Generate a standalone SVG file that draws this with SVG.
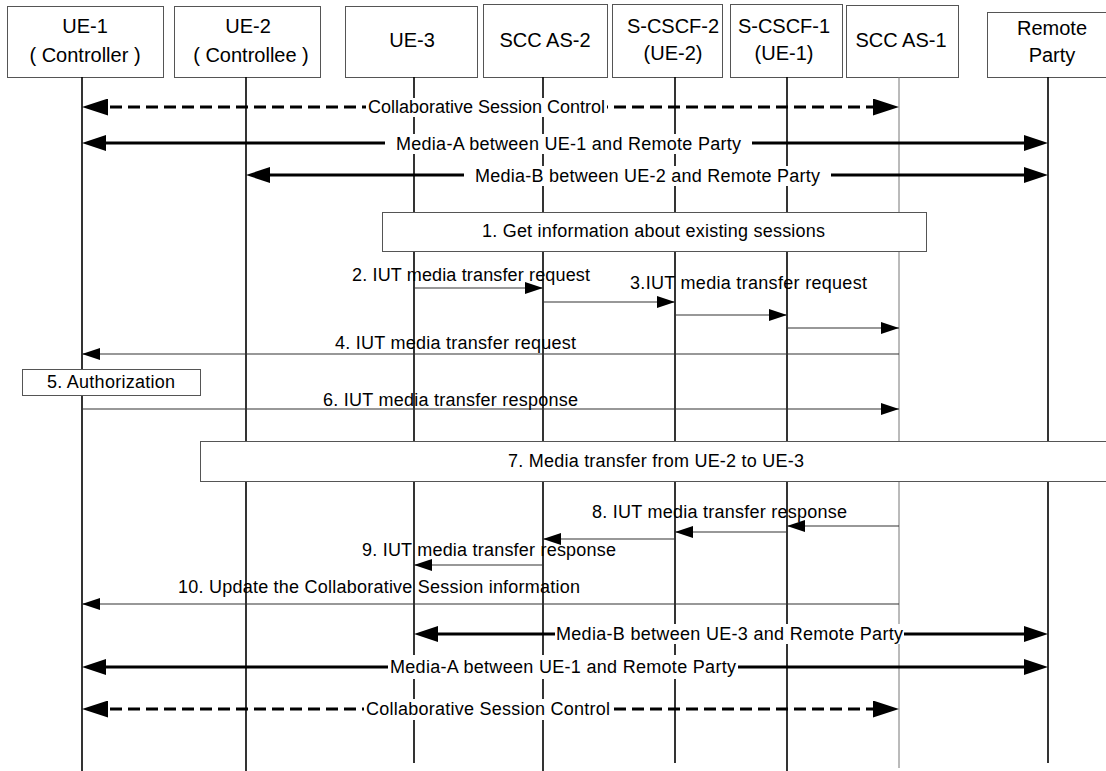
<svg xmlns="http://www.w3.org/2000/svg" width="1106" height="771" viewBox="0 0 1106 771">
<defs>
<style>
text{font-family:"Liberation Sans",Arial,sans-serif;fill:#000}
.hdr{font-size:20px;text-anchor:middle}
.lbl{font-size:18px}
.box{fill:#fff;stroke:#555;stroke-width:1}
.life{stroke:#000;stroke-width:1.6}
.life2{stroke:#777;stroke-width:1}
.msg{fill:none;stroke:#333;stroke-width:1.2;marker-end:url(#thin)}
.thick{fill:none;stroke:#000;stroke-width:3;marker-start:url(#big);marker-end:url(#big)}
.dash{fill:none;stroke:#000;stroke-width:3;stroke-dasharray:12 6;marker-start:url(#dh);marker-end:url(#dh)}
.bg{fill:#fff}
</style>
<marker id="thin" markerUnits="userSpaceOnUse" markerWidth="18" markerHeight="12" refX="18" refY="6" orient="auto"><path d="M0,0 L18,6 L0,12 z" fill="#000"/></marker>
<marker id="big" markerUnits="userSpaceOnUse" markerWidth="24" markerHeight="16" refX="14" refY="8" orient="auto-start-reverse"><path d="M0,0 L24,8 L0,16 z" fill="#000"/></marker>
<marker id="dh" markerUnits="userSpaceOnUse" markerWidth="26" markerHeight="17" refX="16" refY="8.5" orient="auto-start-reverse"><path d="M0,0 L26,8.5 L0,17 z" fill="#000"/></marker>
</defs>
<rect width="1106" height="771" fill="#fff"/>

<g id="ue1"><rect class="box" x="7.5" y="6.5" width="156" height="71"/><text class="hdr" x="85" y="33">UE-1</text><text class="hdr" x="85" y="62">( Controller )</text><line class="life" x1="82" y1="77" x2="82" y2="771"/></g>
<g id="ue2"><rect class="box" x="174.5" y="6.5" width="146" height="71"/><text class="hdr" x="248" y="33">UE-2</text><text class="hdr" x="251" y="62">( Controllee )</text><line class="life" x1="246" y1="77" x2="246" y2="771"/></g>
<g id="ue3"><rect class="box" x="345.5" y="6.5" width="132" height="71"/><text class="hdr" x="412" y="47">UE-3</text><line class="life" x1="414" y1="77" x2="414" y2="763"/></g>
<g id="sccas2"><rect class="box" x="483.5" y="4.5" width="124" height="73"/><text class="hdr" x="545" y="47">SCC AS-2</text><line class="life" x1="543" y1="77" x2="543" y2="771"/></g>
<g id="scscf2"><rect class="box" x="612.5" y="4.5" width="110" height="73"/><text class="hdr" x="673" y="33">S-CSCF-2</text><text class="hdr" x="673" y="60">(UE-2)</text><line class="life" x1="675" y1="77" x2="675" y2="763"/></g>
<g id="scscf1"><rect class="box" x="730.5" y="4.5" width="112" height="73"/><text class="hdr" x="784" y="33">S-CSCF-1</text><text class="hdr" x="784" y="60">(UE-1)</text><line class="life" x1="787" y1="77" x2="787" y2="771"/></g>
<g id="sccas1"><rect class="box" x="846.5" y="5.5" width="112" height="72"/><text class="hdr" x="901" y="47">SCC AS-1</text><line class="life2" x1="899" y1="77" x2="899" y2="768"/></g>
<g id="remote"><rect class="box" x="987.5" y="12.5" width="130" height="65"/><text class="hdr" x="1052" y="35">Remote</text><text class="hdr" x="1052" y="62">Party</text><line class="life" x1="1048" y1="77" x2="1048" y2="763"/></g>

<g id="step1"><rect class="box" x="382.5" y="212.5" width="544" height="39"/><text class="lbl" x="482" y="237" textLength="343" lengthAdjust="spacing">1. Get information about existing sessions</text></g>
<g id="step5"><rect class="box" x="22.5" y="369.5" width="178" height="26"/><text class="lbl" x="47" y="388" textLength="128" lengthAdjust="spacing">5. Authorization</text></g>
<g id="step7"><rect class="box" x="200.5" y="441.5" width="920" height="40"/><text class="lbl" x="508" y="467" textLength="296" lengthAdjust="spacing">7. Media transfer from UE-2 to UE-3</text></g>

<g id="connectors">
<path class="dash" d="M92,107 H889"/>
<path class="thick" d="M92,143 H1038"/>
<path class="thick" d="M256,175 H1038"/>
<path class="msg" d="M414,288 H543"/>
<path class="msg" d="M543,302 H675"/>
<path class="msg" d="M675,315 H787"/>
<path class="msg" d="M787,328 H899"/>
<path class="msg" d="M899,354 H82"/>
<path class="msg" d="M82,409 H899"/>
<path class="msg" d="M899,526 H787"/>
<path class="msg" d="M787,532 H675"/>
<path class="msg" d="M675,539 H543"/>
<path class="msg" d="M543,565 H414"/>
<path class="msg" d="M899,604 H82"/>
<path class="thick" d="M424,634 H1038"/>
<path class="thick" d="M92,667 H1038"/>
<path class="dash" d="M92,709 H889"/>

<rect class="bg" x="366" y="98" width="241" height="19"/>
<text class="lbl" x="368" y="113" textLength="237" lengthAdjust="spacing">Collaborative Session Control</text>
<rect class="bg" x="385" y="134" width="367" height="20"/>
<text class="lbl" x="396" y="150" textLength="345" lengthAdjust="spacing">Media-A between UE-1 and Remote Party</text>
<rect class="bg" x="464" y="166" width="367" height="20"/>
<text class="lbl" x="475" y="182" textLength="345" lengthAdjust="spacing">Media-B between UE-2 and Remote Party</text>
<text class="lbl" x="352" y="281" textLength="238" lengthAdjust="spacing">2. IUT media transfer request</text>
<text class="lbl" x="630" y="289" textLength="237" lengthAdjust="spacing">3.IUT media transfer request</text>
<text class="lbl" x="335" y="349" textLength="241" lengthAdjust="spacing">4. IUT media transfer request</text>
<text class="lbl" x="323" y="406" textLength="255" lengthAdjust="spacing">6. IUT media transfer response</text>
<text class="lbl" x="592" y="518" textLength="255" lengthAdjust="spacing">8. IUT media transfer response</text>
<text class="lbl" x="362" y="556" textLength="254" lengthAdjust="spacing">9. IUT media transfer response</text>
<text class="lbl" x="178" y="593" textLength="402" lengthAdjust="spacing">10. Update the Collaborative Session information</text>
<rect class="bg" x="555" y="624" width="349" height="20"/>
<text class="lbl" x="556" y="640" textLength="347" lengthAdjust="spacing">Media-B between UE-3 and Remote Party</text>
<rect class="bg" x="388" y="655" width="350" height="24"/>
<text class="lbl" x="390" y="673" textLength="346" lengthAdjust="spacing">Media-A between UE-1 and Remote Party</text>
<rect class="bg" x="364" y="699" width="248" height="21"/>
<text class="lbl" x="366" y="715" textLength="244" lengthAdjust="spacing">Collaborative Session Control</text>
</g>
</svg>
